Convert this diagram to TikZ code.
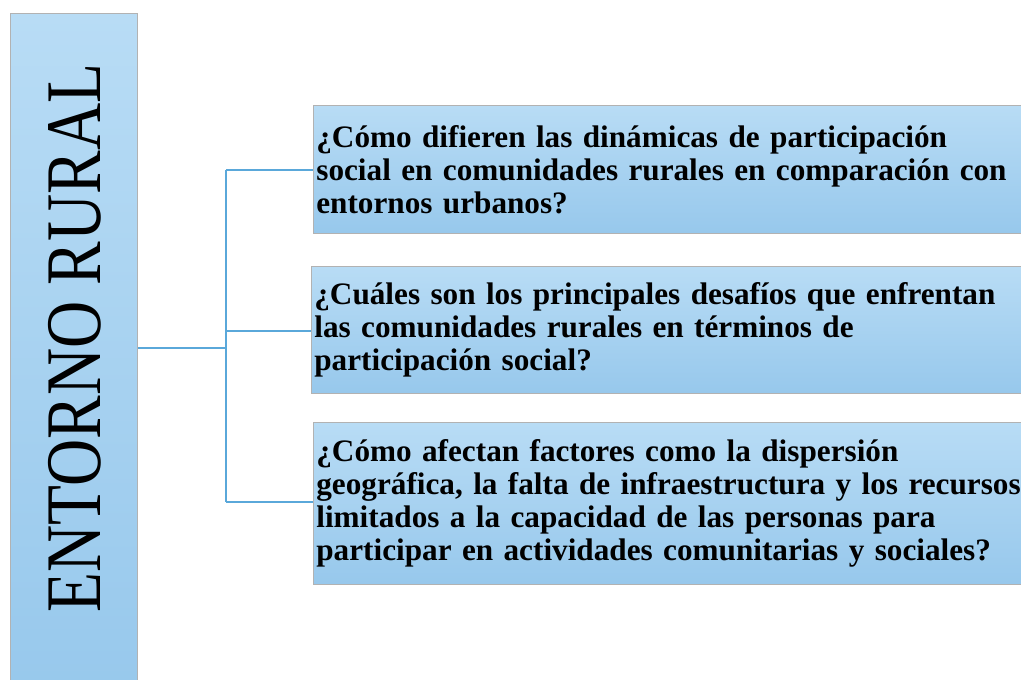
\documentclass[tikz,border=0pt]{standalone}
\usepackage{fontspec}
\setmainfont{Liberation Serif}
\newfontfamily\questfont[WordSpace=0.85]{Liberation Serif Bold}
\newfontfamily\titlefont[FakeStretch=0.83]{Liberation Serif}
\usetikzlibrary{positioning}
\hyphenpenalty=10000
\exhyphenpenalty=10000

\definecolor{boxtop}{HTML}{B8DCF5}
\definecolor{boxbot}{HTML}{97C8EC}
\definecolor{linkblue}{HTML}{5AA8DA}

\tikzset{
  panel/.style={rectangle, draw=gray!60, line width=0.8pt, top color=boxtop, bottom color=boxbot},
  question/.style={panel, anchor=north west, minimum width=17.7cm, text width=17.8cm, inner xsep=0.07cm,
    align=left, font=\questfont\fontsize{22.2}{23.6}\selectfont},
  link/.style={draw=linkblue, line width=1.6pt}
}

\begin{document}
\begin{tikzpicture}[x=0.025cm, y=-0.025cm]

\useasboundingbox (0,0) rectangle (1021,679);

% Left title bar
\node[panel, anchor=north west, minimum width=3.175cm, minimum height=17.2cm, inner sep=0pt] (rural) at (10,13) {};
\node[rotate=90, font=\titlefont\fontsize{56}{60}\selectfont] (ruraltitle) at (75,338) {ENTORNO RURAL};

% Questions
\node[question, minimum height=3.2cm] (q1) at (313,105)
  {¿Cómo difieren las dinámicas de participación\\
   social en comunidades rurales en comparación con\\
   entornos urbanos?};
\node[question, minimum height=3.175cm] (q2) at (311,266)
  {¿Cuáles son los principales desafíos que enfrentan\\
   las comunidades rurales en términos de\\
   participación social?};
\node[question, minimum height=4.05cm] (q3) at (313,422)
  {¿Cómo afectan factores como la dispersión\\
   geográfica, la falta de infraestructura y los recursos\\
   limitados a la capacidad de las personas para\\
   participar en actividades comunitarias y sociales?};

% Connectors
\coordinate (fork) at (226,348);
\coordinate (top) at (226,170);
\coordinate (mid) at (226,331);
\coordinate (bot) at (226,502);
\draw[link] (rural.east |- fork) -- (fork);
\draw[link] (top) -- (bot);
\draw[link] (top) -- (top -| q1.west);
\draw[link] (mid) -- (mid -| q2.west);
\draw[link] (bot) -- (bot -| q3.west);

\end{tikzpicture}
\end{document}
